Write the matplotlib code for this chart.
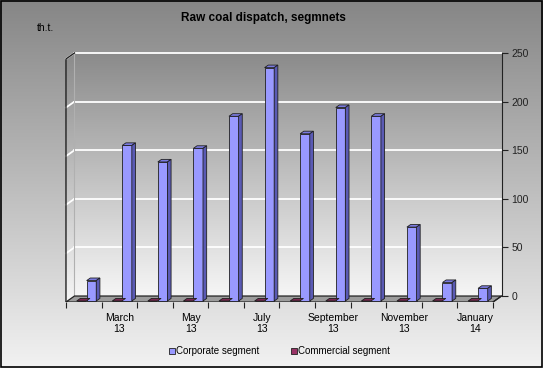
import numpy as np
import matplotlib
matplotlib.use("Agg")
import matplotlib.pyplot as plt
from matplotlib.patches import Polygon, Patch, Rectangle

plt.rcParams['font.family'] = ['Liberation Sans', 'DejaVu Sans']

months = ["February\n13", "March\n13", "April\n13", "May\n13", "June\n13", "July\n13",
          "August\n13", "September\n13", "October\n13", "November\n13", "December\n13", "January\n14"]
corporate = [21, 160, 143, 157, 190, 240, 172, 199, 190, 76, 19, 13]
commercial = [0, 0, 0, 0, 0, 0, 0, 0, 0, 0, 0, 0]
series_names = ["Corporate segment", "Commercial segment"]
yticks = [0, 50, 100, 150, 200, 250]

# fake depth: front plane is shifted left/down compared to back wall
DX, DY = 0.239, 6.17
n = len(months)
ymax = 250

def pt(x, y, t):
    # t = 0 front, t = 1 back wall
    return (x - DX * (1 - t), y - DY * (1 - t))

fig = plt.figure(figsize=(5.43, 3.68), dpi=100)

# figure background gradient
bg = fig.add_axes([0, 0, 1, 1], zorder=-5)
grad = np.linspace(0, 1, 256).reshape(-1, 1)
bg.imshow(grad, aspect='auto', cmap=matplotlib.colors.LinearSegmentedColormap.from_list(
    "g", ["#868686", "#f2f2f2"]), extent=(0, 1, 0, 1), origin='upper')
bg.add_patch(Rectangle((0.001, 0.002), 0.997, 0.995, fill=False, ec='black', lw=1.2,
                       transform=bg.transAxes))
bg.set_axis_off()

ax = fig.add_axes([0.1044, 0.1793, 0.8192, 0.690])
ax.set_xlim(-0.5, n)
ax.set_ylim(-DY, 255)
ax.patch.set_alpha(0)

wallcm = matplotlib.colors.LinearSegmentedColormap.from_list("w", ["#f6f6f6", "#8a8a8a"])
ax.imshow(np.linspace(0, 1, 256).reshape(-1, 1), aspect='auto', cmap=wallcm,
          extent=(0, n, 0, ymax), origin='lower', zorder=0)
# left wall
lw_poly = Polygon([pt(0, 0, 0), pt(0, 0, 1), pt(0, ymax, 1), pt(0, ymax, 0)], closed=True,
                  fc='none', ec='none')
ax.add_patch(lw_poly)
im = ax.imshow(np.linspace(0, 1, 256).reshape(-1, 1), aspect='auto', cmap=wallcm,
               extent=(-DX, 0, -DY, ymax), origin='lower', zorder=0)
im.set_clip_path(lw_poly)

# gridlines
for v in yticks[1:]:
    ax.plot([0, n], [v, v], color='white', lw=1.3, zorder=1)
    ax.plot([pt(0, v, 0)[0], 0], [pt(0, v, 0)[1], v], color='white', lw=1.3, zorder=1)
ax.plot([0, 0], [0, ymax], color='#b0b0b0', lw=0.8, zorder=1)
# left wall front edge
ax.plot([pt(0, 0, 0)[0], pt(0, ymax, 0)[0], 0], [pt(0, 0, 0)[1], pt(0, ymax, 0)[1], ymax],
        color='#222222', lw=1.0, zorder=2)

# floor
floor = Polygon([pt(0, 0, 0), pt(n, 0, 0), pt(n, 0, 1), pt(0, 0, 1)], closed=True,
                fc='#9c9c9c', ec='#222222', lw=0.9, zorder=2)
ax.add_patch(floor)

# bars
t_f, t_b = 0.17, 0.6
w = 0.27
offsets = [0.54, 0.26]
colors = [("#9999ff", "#7b7be0", "#5a5ab4"), ("#993366", "#7a2850", "#5c1e3c")]
for s, vals in enumerate([corporate, commercial]):
    front, top, side = colors[s]
    for i, v in enumerate(vals):
        x0 = i + offsets[s]
        fx, fy = pt(x0, 0, t_f)
        ax.bar(fx, v, width=w, bottom=fy, align='edge', color=front, ec='#202020',
               lw=0.6, zorder=3)
        p1 = pt(x0, v, t_f); p2 = pt(x0 + w, v, t_f)
        p3 = pt(x0 + w, v, t_b); p4 = pt(x0, v, t_b)
        ax.add_patch(Polygon([p1, p2, p3, p4], closed=True, fc=top, ec='#202020',
                             lw=0.6, zorder=3))
        if v > 0:
            b1 = pt(x0 + w, 0, t_f); b2 = pt(x0 + w, 0, t_b)
            ax.add_patch(Polygon([b1, p2, p3, b2], closed=True, fc=side, ec='#202020',
                                 lw=0.6, zorder=3))

# axes: right value axis, bottom category axis on front floor edge
for sp in ['top', 'left']:
    ax.spines[sp].set_visible(False)
ax.spines['right'].set_bounds(0, ymax)
ax.spines['right'].set_color('#222222')
ax.spines['bottom'].set_bounds(-DX, n - DX)
ax.spines['bottom'].set_visible(False)
ax.yaxis.tick_right()
ax.set_yticks(yticks)
ax.set_yticklabels([str(v) for v in yticks], fontsize=7.5)
ax.tick_params(axis='y', direction='out', length=4, width=0.8, pad=3, colors='#222222')
ax.plot([n, n - DX], [0, -DY], color='#222222', lw=0.9, zorder=2)

ax.set_xticks([k - DX for k in range(n + 1)])
ax.set_xticklabels([])
ax.tick_params(axis='x', direction='out', length=4, width=0.8, colors='#222222')
ax.set_xticks([i + 0.5 - DX for i in range(1, n, 2)], minor=True)
ax.set_xticklabels([months[i] for i in range(1, n, 2)], minor=True, fontsize=7.5,
                   linespacing=1.1)
ax.tick_params(axis='x', which='minor', length=0, pad=8)

fig.text(0.485, 0.952, "Raw coal dispatch, segmnets", ha='center', va='center',
         fontsize=8.5, fontweight='bold')
fig.text(0.068, 0.923, "th.t.", ha='left', va='center', fontsize=7.5)

handles = [Patch(fc=colors[0][0], ec='#202020', lw=0.6),
           Patch(fc=colors[1][0], ec='#202020', lw=0.6)]
fig.legend(handles, series_names, loc='center', bbox_to_anchor=(0.515, 0.046), ncol=2,
           frameon=False, fontsize=7, handlelength=0.6, handleheight=0.6,
           handletextpad=0.1, columnspacing=3.3)

fig.savefig("out.png", dpi=100)
